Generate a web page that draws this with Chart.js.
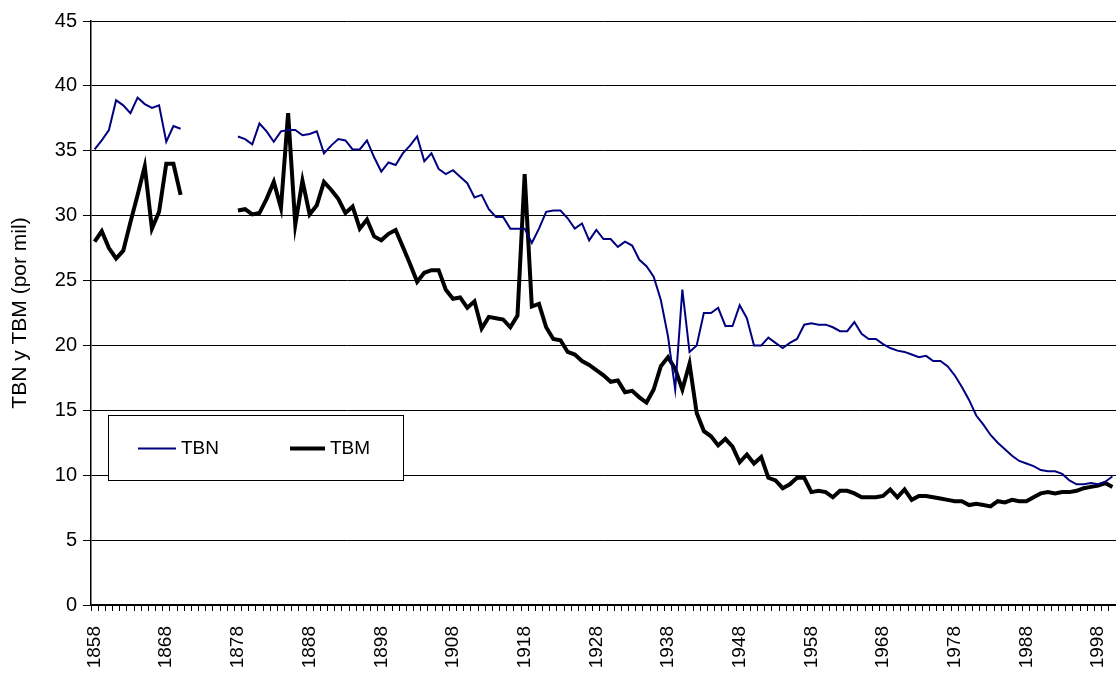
<!DOCTYPE html>
<html>
<head>
<meta charset="utf-8">
<script src="https://cdn.jsdelivr.net/npm/chart.js@4"></script>
<style>
html,body{margin:0;padding:0;background:#fff;}
#wrap{width:1116px;height:675px;overflow:hidden;}
</style>
</head>
<body>
<div id="wrap"><canvas id="c" width="1116" height="675"></canvas></div>
<script>
const years = [1858,1859,1860,1861,1862,1863,1864,1865,1866,1867,1868,1869,1870,1871,1872,1873,1874,1875,1876,1877,
1878,1879,1880,1881,1882,1883,1884,1885,1886,1887,1888,1889,1890,1891,1892,1893,1894,1895,1896,1897,
1898,1899,1900,1901,1902,1903,1904,1905,1906,1907,1908,1909,1910,1911,1912,1913,1914,1915,1916,1917,
1918,1919,1920,1921,1922,1923,1924,1925,1926,1927,1928,1929,1930,1931,1932,1933,1934,1935,1936,1937,
1938,1939,1940,1941,1942,1943,1944,1945,1946,1947,1948,1949,1950,1951,1952,1953,1954,1955,1956,1957,
1958,1959,1960,1961,1962,1963,1964,1965,1966,1967,1968,1969,1970,1971,1972,1973,1974,1975,1976,1977,
1978,1979,1980,1981,1982,1983,1984,1985,1986,1987,1988,1989,1990,1991,1992,1993,1994,1995,1996,1997,
1998,1999,2000];

const labeledYears = [1858,1868,1878,1888,1898,1908,1918,1928,1938,1948,1958,1968,1978,1988,1998];

const yTicks = [0,5,10,15,20,25,30,35,40,45];

// TBN: tasa bruta de natalidad (por mil)
const tbn = [35.1,35.8,36.6,38.9,38.5,37.9,39.1,38.6,38.3,38.5,35.7,36.9,36.7,
null,null,null,null,null,null,null,
36.1,35.9,35.5,37.1,36.5,35.7,36.5,36.6,36.6,36.2,36.3,36.5,34.8,35.4,35.9,35.8,35.1,35.1,35.8,34.5,
33.4,34.1,33.9,34.8,35.4,36.1,34.2,34.8,33.6,33.2,33.5,33.0,32.5,31.4,31.6,30.5,29.9,29.9,29.0,29.0,
29.0,27.9,29.0,30.3,30.4,30.4,29.8,29.0,29.4,28.1,28.9,28.2,28.2,27.6,28.0,27.7,26.6,26.1,25.3,23.5,
20.7,16.6,24.3,19.5,20.0,22.5,22.5,22.9,21.5,21.5,23.1,22.1,20.0,20.0,20.6,20.2,19.8,20.2,20.5,21.6,
21.7,21.6,21.6,21.4,21.1,21.1,21.8,20.9,20.5,20.5,20.1,19.8,19.6,19.5,19.3,19.1,19.2,18.8,18.8,18.4,
17.7,16.8,15.8,14.6,13.9,13.1,12.5,12.0,11.5,11.1,10.9,10.7,10.4,10.3,10.3,10.1,9.6,9.3,9.3,9.4,
9.3,9.5,9.9];

// TBM: tasa bruta de mortalidad (por mil)
const tbm = [28.0,28.8,27.5,26.7,27.3,29.5,31.6,33.8,29.0,30.3,34.0,34.0,31.6,
null,null,null,null,null,null,null,
30.4,30.5,30.1,30.2,31.3,32.6,30.6,37.9,29.3,32.7,30.1,30.8,32.6,32.0,31.3,30.2,30.7,29.0,29.7,28.4,
28.1,28.6,28.9,27.6,26.3,24.9,25.6,25.8,25.8,24.3,23.6,23.7,22.9,23.4,21.3,22.2,22.1,22.0,21.4,22.3,
33.2,23.0,23.2,21.4,20.5,20.4,19.5,19.3,18.8,18.5,18.1,17.7,17.2,17.3,16.4,16.5,16.0,15.6,16.6,18.4,
19.1,18.2,16.6,18.6,14.8,13.4,13.0,12.3,12.8,12.2,11.0,11.6,10.9,11.4,9.8,9.6,9.0,9.3,9.8,9.8,
8.7,8.8,8.7,8.3,8.8,8.8,8.6,8.3,8.3,8.3,8.4,8.9,8.3,8.9,8.1,8.4,8.4,8.3,8.2,8.1,
8.0,8.0,7.7,7.8,7.7,7.6,8.0,7.9,8.1,8.0,8.0,8.3,8.6,8.7,8.6,8.7,8.7,8.8,9.0,9.1,
9.2,9.4,9.1];

const FONT = "'Liberation Sans', Arial, Helvetica, sans-serif";

const boxLegend = {
  id: 'boxLegend',
  afterDatasetsDraw(chart) {
    const c = chart.ctx;
    const bx = 108, by = 415, bw = 295, bh = 65;
    c.save();
    c.fillStyle = '#fff';
    c.fillRect(bx, by, bw, bh);
    c.strokeStyle = '#000';
    c.lineWidth = 1;
    c.strokeRect(bx + 0.5, by + 0.5, bw, bh);
    const items = [
      {x0: 138, x1: 176, tx: 181},
      {x0: 290, x1: 325, tx: 330}
    ];
    const cy = by + bh / 2 + 1;
    chart.data.datasets.forEach((ds, i) => {
      const it = items[i];
      c.strokeStyle = ds.borderColor;
      c.lineWidth = ds.borderWidth;
      c.beginPath();
      c.moveTo(it.x0, cy);
      c.lineTo(it.x1, cy);
      c.stroke();
      c.fillStyle = '#000';
      c.font = '19px ' + FONT;
      c.textBaseline = 'middle';
      c.textAlign = 'left';
      c.fillText(ds.label, it.tx, cy);
    });
    c.restore();
  }
};

new Chart(document.getElementById('c'), {
  type: 'line',
  data: {
    labels: years,
    datasets: [
      {label: 'TBN', data: tbn, borderColor: '#000080', borderWidth: 2, pointRadius: 0, tension: 0, spanGaps: false},
      {label: 'TBM', data: tbm, borderColor: '#000000', borderWidth: 4, pointRadius: 0, tension: 0, spanGaps: false}
    ]
  },
  options: {
    responsive: false,
    animation: false,
    devicePixelRatio: 1,
    layout: {padding: {top: 21, left: 0, right: 0, bottom: 0}},
    plugins: {legend: {display: false}, tooltip: {enabled: false}},
    scales: {
      x: {
        offset: true,
        grid: {offset: true, drawOnChartArea: false, drawTicks: true, tickLength: 6, color: '#000', lineWidth: 1},
        border: {display: true, color: '#000', width: 1.5},
        ticks: {
          autoSkip: false, minRotation: 90, maxRotation: 90, color: '#000', padding: 15,
          font: {family: FONT, size: 19},
          callback: (v, i) => labeledYears.includes(years[i]) ? String(years[i]) : ''
        },
        afterFit: s => { s.height = 70; s.paddingLeft = 0; s.paddingRight = 0; }
      },
      y: {
        min: 0, max: 45,
        afterBuildTicks: s => { s.ticks = yTicks.map(v => ({value: v})); },
        ticks: {color: '#000', padding: 6, font: {family: FONT, size: 20}},
        grid: {color: '#000', lineWidth: 1, tickLength: 8},
        border: {display: true, color: '#000', width: 1.5},
        title: {display: true, text: 'TBN y TBM (por mil)', color: '#000', padding: {top: 8, bottom: 0}, font: {family: FONT, size: 21}},
        afterFit: s => { s.width = 91; s.paddingTop = 0; s.paddingBottom = 0; }
      }
    }
  },
  plugins: [boxLegend]
});
</script>
</body>
</html>
